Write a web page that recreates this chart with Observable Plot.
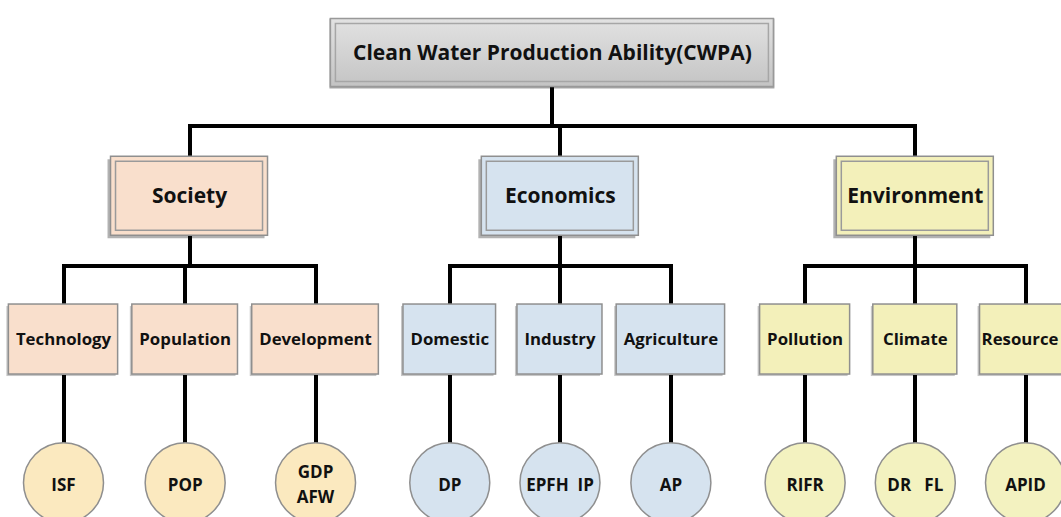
<!DOCTYPE html>
<html><head><meta charset="utf-8">
<script src="https://cdn.jsdelivr.net/npm/d3@7"></script>
<script src="https://cdn.jsdelivr.net/npm/@observablehq/plot@0.6"></script>
<style>
html,body{margin:0;padding:0;background:#fff;overflow:hidden;}
#chart svg{display:block;}
</style></head><body><div id="chart"></div>
<script>
// ---- data ----
const rootLabel = "Clean Water Production Ability(CWPA)";
const categories = ["Society", "Economics", "Environment"];
const societyFactors = ["Technology", "Population", "Development"];
const economicsFactors = ["Domestic", "Industry", "Agriculture"];
const environmentFactors = ["Pollution", "Climate", "Resource"];
const indicators = ["ISF", "POP", "GDP\nAFW", "DP", "EPFH\u00a0\u00a0IP", "AP", "RIFR", "DR\u00a0\u00a0\u00a0FL", "APID"];

// ---- styles ----
const boxFill = ["#f9dfcc", "#d6e3ef", "#f3f0ba"];
const circleFill = ["#fbe9bf", "#d6e3ef", "#f3f2c0"];
const FONT = '"Open Sans", "Noto Sans", sans-serif';
const fontSizes = [21, 21, 16.8, 17];
const elbowFrac = [0.56, 0.44, 0.5];
const boxPad = 14, boxGap = 14, minBox = 84;
const slot = 110, groupSlot = 134;

// ---- hierarchy ----
const factorLists = [societyFactors, economicsFactors, environmentFactors];
let k = 0;
const treeData = {
  name: rootLabel,
  children: categories.map((c, i) => ({
    name: c, cat: i,
    children: factorLists[i].map(f => ({name: f, cat: i, children: [{name: indicators[k++], cat: i}]}))
  }))
};
const root = d3.hierarchy(treeData);

const ctx = document.createElement("canvas").getContext("2d");
function textW(s, size) { ctx.font = `bold ${size}px "Open Sans"`; return ctx.measureText(s).width; }

const sizeOf = [
  n => ({w: 443, h: 68}),
  n => ({w: 157, h: 79}),
  n => ({w: Math.max(minBox, textW(n.data.name, fontSizes[2]) + boxPad), h: 70}),
  n => ({w: 80, h: 80})
];
root.each(n => { n.size = sizeOf[n.depth](n); });

// ---- layout (pixel-sized separations, boxes never collide) ----
d3.tree().nodeSize([1, 1]).separation((a, b) => {
  const base = a.data.cat === b.data.cat ? slot : groupSlot;
  if (a.depth === 2) return Math.max(base, (a.size.w + b.size.w) / 2 + boxGap);
  if (a.depth === 3) return 90;
  return 170;
})(root);

const leaves = root.leaves();
const xmin = d3.min(leaves, d => d.x), xmax = d3.max(leaves, d => d.x);
const W = 1061;
const xRange = [63, 1025], yRange = [52.5, 482.3];
const PX = (xRange[1] - xRange[0]) / (xmax - xmin);
const PY = (yRange[1] - yRange[0]) / 3;
const toDataX = px => xmin + (px - xRange[0]) / PX;

const rec = new Map();
const nodes = root.descendants().map(n => {
  const s = n.size;
  const tw = textW(n.data.name, fontSizes[n.depth]);
  const r = {name: n.data.name, depth: n.depth, cat: n.data.cat, x: n.x, y: n.depth,
    // keep the label inside the picture when a box runs past the right edge
    tx: Math.min(n.x, toDataX(W - 3 - tw / 2)),
    x1: n.x - s.w / 2 / PX, x2: n.x + s.w / 2 / PX,
    y1: n.depth - s.h / 2 / PY, y2: n.depth + s.h / 2 / PY};
  rec.set(n, r);
  return r;
});

const vsegs = [], hsegs = [];
root.descendants().forEach(n => {
  if (!n.parent) return;
  const c = rec.get(n), p = rec.get(n.parent);
  if (n.parent.children.length === 1) {
    vsegs.push({x1: c.x, y1: p.y2, x2: c.x, y2: c.y1});
    return;
  }
  const mid = p.y2 + (c.y1 - p.y2) * elbowFrac[p.depth];
  vsegs.push({x1: p.x, y1: p.y2, x2: p.x, y2: mid});
  hsegs.push({x1: p.x, y1: mid, x2: c.x, y2: mid});
  vsegs.push({x1: c.x, y1: mid, x2: c.x, y2: c.y1});
});

const lvl = d => nodes.filter(n => n.depth === d);

const defs = () => {
  const g = d3.create("svg:defs");
  const lg = g.append("linearGradient").attr("id", "rootGrad").attr("x1", 0).attr("y1", 0).attr("x2", 0).attr("y2", 1);
  lg.append("stop").attr("offset", "0%").attr("stop-color", "#e2e2e2");
  lg.append("stop").attr("offset", "100%").attr("stop-color", "#c4c4c4");
  const f1 = g.append("filter").attr("id", "blur3").attr("x", "-20%").attr("y", "-30%").attr("width", "140%").attr("height", "160%");
  f1.append("feGaussianBlur").attr("stdDeviation", 2.5);
  const f2 = g.append("filter").attr("id", "blur2").attr("x", "-20%").attr("y", "-30%").attr("width", "140%").attr("height", "160%");
  f2.append("feGaussianBlur").attr("stdDeviation", 1.8);
  return g.node();
};

const R = {x1: "x1", x2: "x2", y1: "y1", y2: "y2"};
const txt = (d) => ({x: "tx", y: "y", text: "name", fontSize: fontSizes[d], fontWeight: "bold", fill: "#111", fontFamily: FONT});

const chart = Plot.plot({
  width: W, height: 517, margin: 0,
  style: {fontFamily: FONT, background: "#fff"},
  x: {domain: [xmin, xmax], range: xRange, axis: null},
  y: {domain: [0, 3], range: yRange, axis: null},
  color: {type: "identity"},
  marks: [
    defs,
    Plot.link(vsegs, {x1: "x1", y1: "y1", x2: "x2", y2: "y2", stroke: "#000", strokeWidth: 4, shapeRendering: "crispEdges"}),
    Plot.link(hsegs, {x1: "x1", y1: "y1", x2: "x2", y2: "y2", stroke: "#000", strokeWidth: 4, strokeLinecap: "square", shapeRendering: "crispEdges"}),
    // shadows
    Plot.rect(lvl(0), {...R, fill: "#000", fillOpacity: 0.35, dy: 1, inset: -1, ariaLabel: "shadow3"}),
    Plot.rect(lvl(1), {...R, fill: "#000", fillOpacity: 0.3, dx: -3, dy: 3, ariaLabel: "shadow3"}),
    Plot.rect(lvl(2), {...R, fill: "#000", fillOpacity: 0.22, dx: -2, dy: 2, ariaLabel: "shadow2"}),
    // boxes
    Plot.rect(lvl(0), {...R, fill: "url(#rootGrad)", stroke: "#999", strokeWidth: 1.5}),
    Plot.rect(lvl(0), {...R, fill: "none", stroke: "#a6a6a6", strokeWidth: 1.5, inset: 5}),
    Plot.rect(lvl(1), {...R, fill: d => boxFill[d.cat], stroke: "#8f8f8f", strokeWidth: 1.5}),
    Plot.rect(lvl(1), {...R, fill: "none", stroke: "#9a9a9a", strokeWidth: 1.5, inset: 5}),
    Plot.rect(lvl(2), {...R, fill: d => boxFill[d.cat], stroke: "#8f8f8f", strokeWidth: 1.5}),
    Plot.dot(lvl(3), {x: "x", y: "y", r: 40, fill: d => circleFill[d.cat], stroke: "#8f8f8f", strokeWidth: 1.5}),
    Plot.text(lvl(0), txt(0)),
    Plot.text(lvl(1), txt(1)),
    Plot.text(lvl(2), txt(2)),
    Plot.text(lvl(3), {...txt(3), lineHeight: 1.45})
  ]
});
d3.select(chart).selectAll('g[aria-label="shadow3"]').attr("filter", "url(#blur3)");
d3.select(chart).selectAll('g[aria-label="shadow2"]').attr("filter", "url(#blur2)");
document.getElementById("chart").append(chart);
</script></body></html>
